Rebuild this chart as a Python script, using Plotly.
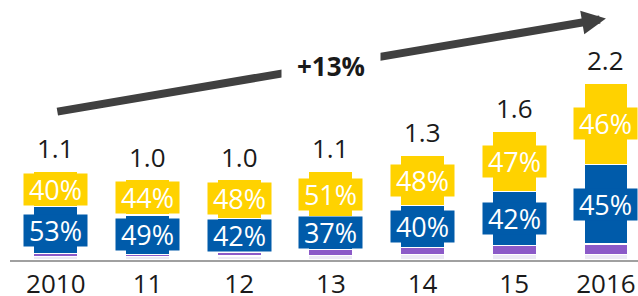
import plotly.graph_objects as go

# ---- data ----
years = ["2010", "11", "12", "13", "14", "15", "2016"]
totals = [1.1, 1.0, 1.0, 1.1, 1.3, 1.6, 2.2]
yellow_pct = [40, 44, 48, 51, 48, 47, 46]
blue_pct = [53, 49, 42, 37, 40, 42, 45]
purple_pct = [3, 3, 5, 7, 7, 7, 6]
growth_label = "+13%"

YELLOW = "#FFD200"
BLUE = "#005BAA"
PURPLE = "#8C5AC8"
LIGHT = "#ECE9F5"
FONT = "Open Sans"

other_pct = [100 - a - b - c for a, b, c in zip(yellow_pct, blue_pct, purple_pct)]
xs = list(range(len(years)))

def absval(pcts):
    return [t * p / 100 for t, p in zip(totals, pcts)]

other_v = absval(other_pct)
purple_v = absval(purple_pct)
blue_v = absval(blue_pct)
yellow_v = absval(yellow_pct)

fig = go.Figure()
for vals, col in [(other_v, LIGHT), (purple_v, PURPLE), (blue_v, BLUE), (yellow_v, YELLOW)]:
    fig.add_trace(go.Bar(x=xs, y=vals, width=0.48, marker=dict(color=col, line=dict(color="white", width=1.2)),
                         hoverinfo="skip", showlegend=False))

annotations = []
# arrow (decoration)
annotations.append(dict(x=6.0, y=3.0, ax=0.0, ay=1.84, xref="x", yref="y", axref="x", ayref="y",
                        text="", showarrow=True, arrowhead=2, arrowsize=0.6, arrowwidth=8,
                        arrowcolor="#404040", standoff=0))
annotations.append(dict(x=3.0, y=2.41, xref="x", yref="y", text="<b>%s</b>" % growth_label, showarrow=False,
                        bgcolor="white", width=98, height=34, borderpad=0,
                        font=dict(family=FONT, size=26, color="#1a1a1a")))

for i in xs:
    base = other_v[i] + purple_v[i]
    annotations.append(dict(x=i, y=base + blue_v[i] / 2, xref="x", yref="y", text="%d%%" % blue_pct[i],
                            showarrow=False, bgcolor=BLUE, width=63, height=31, borderpad=0,
                            font=dict(family=FONT, size=27, color="white")))
    top_base = base + blue_v[i]
    annotations.append(dict(x=i, y=top_base + yellow_v[i] / 2, xref="x", yref="y", text="%d%%" % yellow_pct[i],
                            showarrow=False, bgcolor=YELLOW, width=63, height=31, borderpad=0,
                            font=dict(family=FONT, size=27, color="white")))
    annotations.append(dict(x=i, y=totals[i], xref="x", yref="y", text="%.1f" % totals[i],
                            showarrow=False, yanchor="bottom", yshift=3,
                            font=dict(family=FONT, size=26, color="#1a1a1a")))

fig.update_layout(
    barmode="stack",
    width=638, height=296,
    margin=dict(l=10, r=0, t=0, b=36),
    paper_bgcolor="white", plot_bgcolor="white",
    annotations=annotations,
    xaxis=dict(range=[-0.5, 6.35], tickmode="array", tickvals=xs, ticktext=years, automargin=False,
               showline=True, linecolor="#A0A0A0", linewidth=2, showgrid=False, zeroline=False,
               ticks="", tickfont=dict(family=FONT, size=26, color="#1a1a1a")),
    yaxis=dict(range=[0, 3.23], visible=False, showgrid=False, zeroline=False, automargin=False),
    font=dict(family=FONT),
)

fig.write_html("out.html", config={"displayModeBar": False, "staticPlot": True},
               post_script="document.body.style.margin='0';document.body.style.overflow='hidden';")
